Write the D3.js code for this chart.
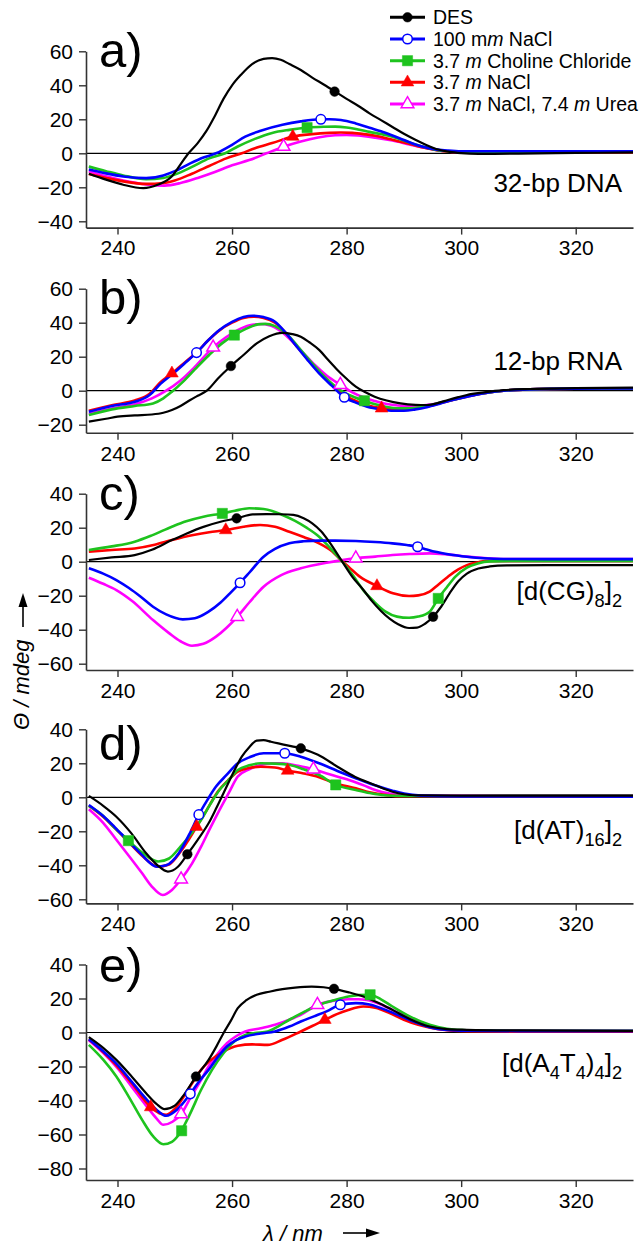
<!DOCTYPE html>
<html>
<head>
<meta charset="utf-8">
<script src="https://cdn.jsdelivr.net/npm/d3@7"></script>
<style>
  body { margin: 0; background: #fff; }
  svg { display: block; font-family: "Liberation Sans", Arial, sans-serif; }
</style>
</head>
<body>
<svg id="chart" width="641" height="1245"></svg>
<script>
// series order: DES, 100 mm NaCl, 3.7 m ChCl, 3.7 m NaCl, 3.7 m NaCl + 7.4 m urea
const seriesColors = ["#000000", "#0000ff", "#1ec31e", "#ff0000", "#ff00ff"];
const seriesSymbols = ["circle", "circle", "square", "triangle", "triangle"];
const seriesOpen = [false, true, false, false, true];
// "*" = italic part
const legendLabels = [
  ["DES"],
  ["100 m", "*m", " NaCl"],
  ["3.7 ", "*m", " Choline Chloride"],
  ["3.7 ", "*m", " NaCl"],
  ["3.7 ", "*m", " NaCl, 7.4 ", "*m", " Urea"]
];
const panelLetters = ["a)", "b)", "c)", "d)", "e)"];
// "_" = subscript part
const panelNames = [
  ["32-bp DNA"],
  ["12-bp RNA"],
  ["[d(CG)", "_8", "]", "_2"],
  ["[d(AT)", "_16", "]", "_2"],
  ["[d(A", "_4", "T", "_4", ")", "_4", "]", "_2"]
];
const xTicks = [240, 260, 280, 300, 320];
const yTicks = [
  [-40, -20, 0, 20, 40, 60],
  [-20, 0, 20, 40, 60],
  [-60, -40, -20, 0, 20, 40],
  [-60, -40, -20, 0, 20, 40],
  [-80, -60, -40, -20, 0, 20, 40]
];
const yDomains = [[-43.7, 60], [-24.7, 60], [-63.7, 40], [-62.4, 40], [-86.8, 40]];

// a) 32-bp DNA
const aDES = [[235,-12],[238,-15.5],[241,-18.5],[244.5,-20.5],[247,-18.5],[249.5,-13.5],[251,-6.5],[252.4,0],[254,6],[255.5,13],[257,22],[258.5,32],[260,40],[261.5,46],[263.5,52.5],[265.5,55.5],[267,56],[268.5,55],[270,52.5],[272,49],[274,44.5],[276,40.5],[278,36.3],[280,32],[282,28],[284,23.5],[286,19.5],[288,15.5],[290,11.5],[292,8],[294,4.8],[296,2.2],[298,0.8],[300,0.1],[303,-0.3],[310,-0.2],[320,0.2],[330,0.5]];
const aNa100 = [[235,-9.5],[238,-11.8],[241,-13.6],[245,-14.6],[248,-13],[250,-10.5],[252.7,-5.9],[255,-2.5],[257.2,0],[260,5],[262.3,9.8],[265,13.3],[268.8,16.8],[272,18.8],[275.5,20],[277,20],[279,19.6],[281.6,17.6],[284,15],[286,13],[288,10.5],[290,7.8],[292,5.2],[294.5,2.9],[297.7,1.6],[300,1.2],[310,1.2],[330,1.2]];
const aChCl = [[235,-7.8],[238,-10.5],[241,-13],[245,-15.2],[248,-14.5],[250,-12.5],[253,-8],[256,-3],[258.8,0],[261,4],[264,8.5],[267,12],[270,13.8],[273.1,15.1],[276,15.6],[278,15.7],[280,15.2],[282,14],[284,12.6],[286,11.3],[288,9.8],[290,7.5],[292,5.2],[294.5,2.9],[297,1.4],[300,0.9],[310,0.8],[330,0.8]];
const aNa37 = [[235,-12.2],[238,-14.5],[241,-16.5],[245,-18],[248,-17.5],[250,-16],[253,-12],[256,-7.5],[259,-3],[261.7,0],[264,3],[267,6],[270.6,9.8],[274,11.3],[277,12],[279,12.2],[281,12],[283,11.3],[285,10.3],[288,8],[291,5.5],[294,3],[297,1.2],[300,0.6],[310,0.4],[330,0.5]];
const aUrea = [[235,-10.5],[238,-13.5],[241,-16],[245,-18.3],[248.2,-19],[251,-17.5],[254,-14.5],[257,-11],[260,-7],[263,-4],[266,0],[269,3.9],[272,7],[275,9.3],[278,10.6],[280,10.8],[282,10.5],[285,9.2],[288,7.5],[291,5.2],[294,3],[297,1.3],[300,0.6],[310,0.4],[330,0.5]];
const aMarks = [[[277.9,36.3]], [[275.5,20]], [[273.1,15.1]], [[270.6,9.8]], [[269,3.9]]];

// b) 12-bp RNA
const bDES = [[235,-18.2],[238,-16.5],[240,-15.3],[243,-14.5],[246,-14],[248,-13],[249.5,-11.4],[251,-9],[252.7,-5.5],[254,-3],[255.6,0],[257.5,7],[259.8,14.5],[262,21],[264.3,27.8],[266.5,32],[268.8,34],[270.5,33.3],[272,31.8],[273.5,28.5],[275.2,24],[276.8,18],[278.4,12.2],[280,7],[281.6,2.4],[283.2,-0.8],[284.9,-3.5],[287,-5.8],[289.4,-7.5],[292,-8.3],[294,-8.4],[296,-7.2],[297.7,-5.5],[299.5,-3.8],[301,-2.5],[304,-1],[307.4,0.3],[312,1],[320,1.5],[330,1.8]];
const bNa100 = [[235,-12.4],[239,-9],[243,-6.5],[245.6,-2.5],[247.5,4],[249.5,9.5],[251.7,16],[253.8,22.4],[255.8,29.5],[257.8,35.7],[260,40.5],[262,43.3],[263.6,44.1],[265.5,43.3],[267.5,40.6],[269.4,34],[271.3,25.9],[273.2,18],[275.2,10.2],[277.4,3],[279.6,-3.9],[281.6,-7],[283.6,-9.4],[286,-11],[288.1,-11.8],[290,-11.8],[292,-11],[294,-9.7],[296.4,-7.5],[298.5,-5.5],[301,-3.5],[304,-1.5],[307.4,0],[312,0.8],[320,1.2],[330,1.3]];
const bChCl = [[235,-14.3],[239,-11],[243,-9],[246.2,-7.5],[248,-4.5],[249.5,-0.6],[251.5,5.5],[253.5,12.5],[256,21],[258.3,28],[260.4,32.7],[262.5,36.5],[264.5,39],[265.8,39.3],[267.5,38],[269.5,33.5],[271.5,26],[273.5,18],[275.5,10.5],[277.5,4],[279.5,-1],[281.5,-4],[283.1,-5.9],[285,-8],[287,-9.6],[289,-10.4],[291,-10.4],[293,-9.6],[295,-8.2],[297,-6.5],[299,-5],[301,-3.3],[304,-1.5],[307.4,0],[312,0.8],[320,1.2],[330,1.3]];
const bNa37 = [[235,-11.8],[239,-8.5],[243,-5.8],[245.6,-1.8],[247.5,5],[249.5,10.2],[251.7,16.5],[253.8,22.5],[255.8,29.5],[257.8,35.5],[260,40],[262,42.8],[263.8,43.5],[265.5,42.8],[267.5,40],[269.4,33.8],[271.3,26],[273.2,18.5],[275.2,11],[277.4,4],[279.6,-2.5],[281.6,-6],[283.6,-8.5],[286,-10.2],[288.1,-11],[290,-11],[292,-10.4],[294,-9.3],[296.4,-7.3],[298.5,-5.4],[301,-3.5],[304,-1.5],[307.4,0],[312,0.8],[320,1.2],[330,1.3]];
const bUrea = [[235,-13.5],[239,-10.5],[243,-8],[246,-4.5],[248.5,0],[251,6],[253.5,14],[256.7,25.5],[259,31.5],[261.5,36.5],[263.5,38.8],[265,39.2],[266.5,38.5],[268.5,35],[270.5,29],[272.5,22],[274.5,15],[276.5,9],[278.9,3.5],[281,-1],[283,-4],[284.9,-6],[287,-7.8],[289,-8.7],[291,-9],[293,-8.8],[295,-8],[297,-6.5],[299,-5],[301,-3.3],[304,-1.5],[307.4,0],[312,0.8],[320,1.2],[330,1.3]];
const bMarks = [[[259.8,14.5]], [[253.8,22.4],[279.6,-3.9]], [[260.4,32.7],[283.1,-5.9]], [[249.5,10.2],[286.1,-10.4]], [[256.7,25.5],[278.9,3.5]]];

// c) [d(CG)8]2
const cDES = [[235,1],[239,2.5],[243,3.9],[246,7],[249.5,12.7],[252,16.5],[255,20.5],[258,23.5],[260.8,25.5],[263.6,27.8],[266,28],[268.5,27.9],[270.7,27.5],[272.5,25.5],[274,22.5],[275.5,18],[277,11.5],[279,1.3],[281,-8.9],[282.9,-16.5],[284.5,-23.5],[286,-29],[287.5,-33.5],[289,-36.8],[290.9,-39],[292.3,-38.8],[293.7,-36.5],[295.1,-32.4],[296.5,-26.5],[298,-18.5],[299.5,-11.5],[301,-7],[303,-4],[305,-2.8],[308,-2.2],[315,-2],[330,-2]];
const cNa100 = [[235,-3.9],[237.5,-7],[239.8,-10.8],[242,-15.5],[244,-20.5],[246.2,-26.5],[248.5,-31],[251.4,-33.9],[253.5,-33.3],[255.9,-29.4],[258,-24],[259.8,-18],[261.4,-12.4],[263,-6.5],[265.5,2.9],[267.5,7.5],[270,10.8],[272.5,12],[275.2,12.4],[278,12.4],[281.6,12.2],[285,11.6],[288,10.8],[290.5,9.8],[292.4,8.8],[294,7.2],[295.5,5.8],[298,4.2],[301,2.9],[304,2],[307.4,1.6],[315,1.5],[330,1.5]];
const cChCl = [[235,6.9],[239,9],[243,11.8],[246,15.5],[249.5,20.6],[252,23.8],[255,26.5],[258.3,28.4],[260.5,30],[263,31.4],[265.5,31],[268.8,27.5],[271,24],[273,20],[275.2,14.7],[277,8.5],[279,1],[281,-7.5],[282.9,-16.7],[284.8,-23.5],[286.8,-29.4],[288.8,-32.3],[290.9,-33],[292.5,-32.3],[294.5,-29.4],[296,-21.6],[297.5,-15],[299,-8.8],[301,-3.5],[302.9,-1],[305,0.2],[310,0.5],[330,0.5]];
const cNa37 = [[235,5.9],[239,6.9],[243,7.8],[246.5,10],[249.5,12.7],[253,15.5],[256,17.3],[258.9,18.6],[262,20.6],[264.9,21.6],[267.5,20.5],[270,17.6],[272.5,14.5],[275.2,10.8],[277.5,6],[279,1],[280.5,-3.5],[282.3,-8.8],[285.3,-14.3],[288.1,-18.6],[290.9,-20.2],[292.5,-19.8],[294.5,-17.6],[296,-13.5],[297.7,-8.8],[299.5,-4.5],[301,-2],[303,-0.3],[304.2,0.4],[310,0.5],[330,0.5]];
const cUrea = [[235,-9.4],[237.5,-13],[239.8,-16.7],[242.5,-23],[246.2,-34.3],[249,-42],[251,-46.8],[253,-49.4],[255,-48.3],[257.2,-44.1],[259,-39],[260.9,-32.4],[263,-24],[265.5,-14.7],[268.5,-8],[272,-3.9],[276.5,-0.6],[279,0.8],[281.6,2],[285,3],[288,3.9],[291,4.5],[294.5,4.9],[297.5,4.3],[301,3],[304,2.2],[307.4,1.6],[315,1.5],[330,1.5]];
const cMarks = [[[260.8,25.5],[295.1,-32.4]], [[261.4,-12.4],[292.4,8.8]], [[258.3,28.4],[296,-21.6]], [[258.9,18.6],[285.3,-14.3]], [[260.9,-32.4],[281.6,2]]];

// d) [d(AT)16]2
const dDES = [[235,0.8],[237.5,-5],[239.8,-11.4],[242.5,-21.5],[245,-32.9],[247,-40],[248.8,-43.7],[250.5,-41],[252.2,-33.5],[254,-25],[255.9,-15.3],[257.3,-6],[258.5,2.4],[260,13],[261.7,23.9],[263,29.5],[264.3,33.3],[265.5,33.6],[266.8,32.7],[269,31],[272,28.8],[275,25],[278.4,18],[281.5,12],[284.9,7.3],[286.5,5],[288,3.3],[290,1.8],[292,1.2],[300,1],[330,1]];
const dNa100 = [[235,-4.5],[237.5,-11],[239.5,-17.5],[241.7,-25.1],[244,-33],[246.9,-40.8],[248.5,-40],[250.7,-32.9],[252.5,-22],[254.2,-10.2],[255.7,-1.5],[257.2,6.3],[259,13],[261,20],[263,23.5],[265.5,25.9],[269.2,25.9],[272,23.8],[275.2,20],[278.4,15.5],[281.6,11.2],[284.8,7.2],[288,3.9],[290,2.2],[293,1],[300,0.5],[330,0.4]];
const dChCl = [[235,-5.1],[237.5,-11],[239.5,-18],[241.9,-25.5],[244.5,-33],[247.1,-37.8],[249,-36],[251,-29],[254.6,-13.3],[256.2,-4],[257.8,4.3],[259.5,10.5],[261,16],[263,18.8],[265,20],[267.5,19.8],[270.1,19],[272.5,16.5],[275.2,13.1],[278.1,7.3],[281.6,4.3],[284,2.5],[286.1,1.4],[290,0.8],[300,0.8],[330,0.9]];
const dNa37 = [[235,-5],[237.5,-11.5],[239.5,-18],[242,-26.5],[244.5,-35],[247,-40.8],[249,-39.5],[251,-32],[252.5,-24.5],[253.8,-17.3],[255.5,-8],[257.5,3.3],[259.3,10],[261,15.1],[263,17.3],[265,18],[267.5,17.5],[269.7,15.7],[272.5,14],[275.2,11.8],[278,8.3],[281.6,5.3],[284,3],[287,1.3],[290,0.6],[330,0.5]];
const dUrea = [[235,-7],[237.5,-15],[239.8,-25],[242,-34.5],[244.3,-44.7],[246,-52.5],[247.9,-57.5],[249.5,-54.5],[251.1,-48.2],[253,-39],[254.6,-29],[256.2,-18],[257.8,-7.5],[259.5,3],[261,12.2],[263,16.5],[265,19],[267,20],[268.8,20],[271.5,18.5],[274.2,16.5],[277,13.5],[280.4,10.2],[283,7],[285,4.3],[287.5,2.2],[290,1.2],[300,1],[330,1]];
const dMarks = [[[252.2,-33.5],[272,28.8]], [[254.2,-10.2],[269.2,25.9]], [[241.9,-25.5],[278.1,7.3]], [[253.8,-17.3],[269.7,15.7]], [[251.1,-48.2],[274.2,16.5]]];

// e) [d(A4T4)4]2
const eDES = [[235,-2.7],[237.5,-9],[239.8,-16.1],[242.5,-26],[245,-35.7],[246.8,-42],[248.2,-45.1],[250,-43],[251.4,-37.6],[253.7,-25.9],[255.9,-16.1],[257.3,-8],[258.5,-0.4],[259.8,7],[261,14.3],[262.5,19],[264.3,22.2],[266.5,24],[268.8,25.5],[271,26.4],[273.9,27],[276,26.6],[277.8,25.7],[280.5,23.5],[282.9,21.2],[285.5,17.5],[288,13.3],[291,8],[294.5,3.5],[297.5,2],[301,1.6],[310,1.2],[330,1]];
const eNa100 = [[235,-3.9],[237.5,-11],[240,-19],[242.5,-29],[245,-39],[247,-46],[248.5,-49],[250.5,-45],[252.7,-36.1],[254.3,-28.5],[255.9,-22],[257.5,-14.5],[259.1,-8.2],[260.7,-4.5],[262.3,-2.4],[265,-0.6],[267.5,0.6],[270,3.5],[272,6.5],[274.3,9.5],[276.5,12.4],[278.9,16.3],[281.6,17.3],[284,16.5],[286.8,13.3],[289.5,9.5],[292,6],[294.5,3.1],[297.5,1.5],[301,1],[310,0.8],[330,0.8]];
const eChCl = [[235,-7.3],[237.5,-16],[239.8,-25.9],[242,-38],[244.3,-51.4],[246.2,-61],[248,-65.7],[249.5,-64.3],[250.7,-60.2],[252.5,-49],[254.6,-33.7],[256.5,-22],[258.5,-12.2],[260.5,-5],[262.3,-1.4],[264,-0.3],[266.2,0.6],[268,3.5],[270,7.5],[272.5,12],[275.2,16.3],[277.8,19],[280.3,21.2],[282,22],[284.1,22.2],[286,19.5],[288,15.3],[291,9.5],[294.5,4.5],[297.5,2.2],[301,1.3],[310,1],[330,1]];
const eNa37 = [[235,-4],[237.5,-11.5],[240,-20],[242.5,-30],[245.8,-43.9],[247.3,-47.5],[248.5,-48.4],[250,-45],[251.4,-38.5],[253,-30],[254.6,-22],[256,-17],[258.5,-11.2],[261,-7.8],[263.5,-7],[266.2,-7.3],[268.8,-4.3],[272,0.6],[274,3.8],[276.2,7.5],[278.3,10.8],[280.3,13.3],[282.9,15.3],[285,14.5],[287.5,11.4],[290,7.5],[292.5,4.5],[295,2.5],[298,1.2],[301,0.7],[310,0.5],[330,0.5]];
const eUrea = [[235,-4.5],[237.5,-12],[240,-21],[242.5,-32],[245,-43],[246.8,-50.5],[248,-54.3],[249.6,-52.5],[251.1,-48],[252.8,-38],[254.5,-28.5],[255.9,-20],[257.5,-12.5],[259.1,-6.3],[260.7,-2.2],[262.3,0.6],[265,2.5],[267.5,4.5],[270,7.5],[272,10.4],[274.9,16.3],[277.5,18.5],[280.3,19.6],[282,19.6],[283.5,19.2],[286,16.5],[288,13.3],[291,8.5],[294.5,3.8],[297.5,1.8],[301,1.1],[310,1],[330,1]];
const eMarks = [[[253.7,-25.9],[277.8,25.7]], [[252.7,-36.1],[278.9,16.3]], [[251.2,-57.8],[284.1,22.2]], [[245.8,-43.9],[276.2,7.5]], [[251.1,-48],[274.9,16.3]]];

const panelSeries = [
  [aDES, aNa100, aChCl, aNa37, aUrea],
  [bDES, bNa100, bChCl, bNa37, bUrea],
  [cDES, cNa100, cChCl, cNa37, cUrea],
  [dDES, dNa100, dChCl, dNa37, dUrea],
  [eDES, eNa100, eChCl, eNa37, eUrea]
];
const panelMarks = [aMarks, bMarks, cMarks, dMarks, eMarks];

// layout
const left = 86, right = 633;
const panelTop = [51.3, 288.7, 493.7, 729.3, 964.5];
const pxPerUnit = 1.7;
const letterY = [66.5, 314, 510, 759.5, 982];
const nameY = [192, 370, 600, 839, 1072];
const drawOrder = [4, 3, 2, 1, 0];
const axisColor = "#333";

const svg = d3.select("#chart");
const x = d3.scaleLinear().domain([234.5, 330]).range([left, right]);

const symbolTypes = { circle: d3.symbolCircle, square: d3.symbolSquare, triangle: d3.symbolTriangle };
const symbolSizes = { circle: 72, square: 105, triangle: 70 };

function drawMarker(g, i, px, py) {
    const t = seriesSymbols[i];
    g.append("path")
        .attr("d", d3.symbol().type(symbolTypes[t]).size(symbolSizes[t])())
        .attr("transform", `translate(${px},${py})`)
        .attr("fill", seriesOpen[i] ? "#fff" : seriesColors[i])
        .attr("stroke", seriesColors[i])
        .attr("stroke-width", seriesOpen[i] ? 1.5 : 0.5);
}

function richText(sel, parts, size) {
    parts.forEach(function(part, k) {
        const ts = sel.append("tspan");
        if (part.startsWith("*")) {
            ts.text(part.slice(1)).style("font-style", "italic");
        } else if (part.startsWith("_")) {
            ts.text(part.slice(1)).attr("font-size", size * 0.7).attr("dy", size * 0.25);
        } else {
            ts.text(part);
            if (k > 0 && parts[k - 1].startsWith("_")) ts.attr("dy", -size * 0.25);
        }
    });
}

panelSeries.forEach(function(series, p) {
    const bottom = panelTop[p] + (yDomains[p][1] - yDomains[p][0]) * pxPerUnit;
    const y = d3.scaleLinear().domain(yDomains[p]).range([bottom, panelTop[p]]);
    const g = svg.append("g");

    g.append("line")
        .attr("x1", left).attr("x2", right)
        .attr("y1", y(0)).attr("y2", y(0))
        .attr("stroke", "#000")
        .attr("stroke-width", 1.2);

    const xAxis = g.append("g")
        .attr("transform", `translate(0,${bottom})`)
        .call(d3.axisBottom(x).tickValues(xTicks).tickSize(7).tickSizeOuter(0).tickPadding(6));
    const yAxis = g.append("g")
        .attr("transform", `translate(${left},0)`)
        .call(d3.axisLeft(y).tickValues(yTicks[p]).tickSize(7).tickSizeOuter(0).tickPadding(6));

    [xAxis, yAxis].forEach(function(ax) {
        ax.attr("font-size", 21).attr("font-family", null);
        ax.select(".domain").attr("stroke", axisColor).attr("stroke-width", 1.6);
        ax.selectAll(".tick line").attr("stroke", axisColor).attr("stroke-width", 1.4);
        ax.selectAll(".tick text").attr("fill", "#000");
    });

    const line = d3.line()
        .x(d => x(d[0]))
        .y(d => y(d[1]))
        .curve(d3.curveMonotoneX);

    drawOrder.forEach(function(i) {
        g.append("path")
            .datum(series[i])
            .attr("d", line)
            .attr("fill", "none")
            .attr("stroke", seriesColors[i])
            .attr("stroke-width", i === 0 ? 2.2 : 2.6)
            .attr("stroke-linejoin", "round");
    });

    drawOrder.forEach(function(i) {
        panelMarks[p][i].forEach(m => drawMarker(g, i, x(m[0]), y(m[1])));
    });

    g.append("text")
        .attr("x", 99)
        .attr("y", letterY[p])
        .attr("font-size", 49)
        .text(panelLetters[p]);

    const name = g.append("text")
        .attr("x", 622)
        .attr("y", nameY[p])
        .attr("font-size", 26)
        .attr("text-anchor", "end");
    richText(name, panelNames[p], 26);
});

// legend
const legendY = [17.3, 39, 60.7, 82.3, 104];
legendLabels.forEach(function(parts, i) {
    const g = svg.append("g").attr("transform", `translate(0,${legendY[i]})`);
    g.append("line")
        .attr("x1", 390).attr("x2", 425)
        .attr("stroke", seriesColors[i])
        .attr("stroke-width", 3);
    drawMarker(g, i, 407.5, 0);
    const t = g.append("text")
        .attr("x", 433)
        .attr("y", 7)
        .attr("font-size", 19.5);
    richText(t, parts, 19.5);
});

// axis titles
svg.append("text")
    .attr("transform", "translate(29,730) rotate(-90)")
    .attr("font-size", 22)
    .style("font-style", "italic")
    .text("\u0398 / mdeg");

svg.append("path")
    .attr("d", "M23,627V605")
    .attr("stroke", "#000")
    .attr("stroke-width", 1.6);
svg.append("path")
    .attr("d", "M23,593L18.5,607L27.5,607Z")
    .attr("fill", "#000");

svg.append("text")
    .attr("x", 263)
    .attr("y", 1241)
    .attr("font-size", 22)
    .style("font-style", "italic")
    .text("\u03bb / nm");

svg.append("path")
    .attr("d", "M343,1233H368")
    .attr("stroke", "#000")
    .attr("stroke-width", 1.6);
svg.append("path")
    .attr("d", "M380,1233L366,1228.5L366,1237.5Z")
    .attr("fill", "#000");
</script>
</body>
</html>
